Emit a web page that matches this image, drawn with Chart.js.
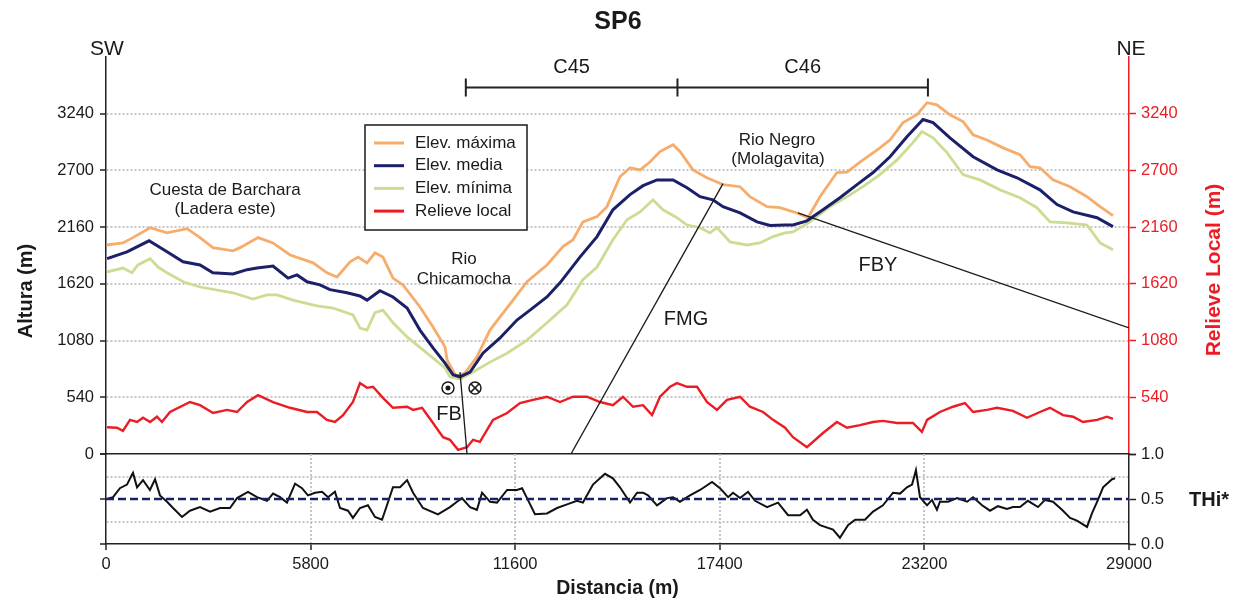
<!DOCTYPE html>
<html>
<head>
<meta charset="utf-8">
<script src="https://cdn.jsdelivr.net/npm/chart.js@4"></script>
<style>
  body { margin: 0; background: #fff; }
  #wrap { position: relative; width: 1238px; height: 605px; }
  #wrap canvas { position: absolute; left: 0; top: 0; }
</style>
</head>
<body>
<div id="wrap">
  <canvas id="perfil" width="1238" height="605"></canvas>
  <canvas id="thi" width="1238" height="605"></canvas>
</div>
<script>
// Perfil SP6 - distancias en m, alturas en m
const distMax = [20,480,765,1250,1730,2300,2665,3030,3600,3800,4310,4730,5220,5870,6265,6550,6920,7145,7400,7625,7850,8135,8420,8900,9270,9610,9670,9895,9950,10175,10515,10885,11170,11540,11935,12500,12955,13240,13520,13920,14200,14570,14855,15140,15420,15705,16075,16270,16640,17035,17490,17975,18255,18740,19105,19590,19900,20240,20720,21005,21375,21940,22225,22595,22990,23275,23555,23925,24295,24580,24975,25430,25910,26195,26475,26845,27330,27810,28180,28545];
const elevMax = [1990,2010,2060,2155,2105,2145,2060,1965,1935,1965,2060,2010,1895,1820,1725,1685,1830,1875,1820,1915,1875,1675,1610,1400,1210,1020,895,755,745,770,925,1180,1305,1465,1640,1800,1975,2040,2210,2260,2355,2640,2725,2705,2780,2880,2945,2880,2705,2630,2565,2545,2450,2355,2345,2295,2250,2450,2680,2685,2780,2915,2990,3155,3230,3345,3325,3230,3165,3040,2990,2915,2850,2735,2725,2610,2545,2450,2355,2270];

const distMedia = [30,595,1220,1730,2185,2665,3030,3600,4000,4280,4735,5160,5415,5700,6065,6350,6830,7200,7400,7765,8135,8535,8900,9270,9610,9835,10035,10320,10685,11170,11650,12020,12500,12870,13435,13920,14370,14855,15225,15620,16075,16470,16840,17205,17490,17975,18455,18825,19250,19475,19870,20325,20805,21290,21745,22225,22705,23160,23445,23925,24580,25260,25825,26475,26960,27415,28095,28545];
const elevMedia = [1860,1925,2030,1925,1830,1800,1725,1715,1755,1770,1790,1675,1705,1640,1610,1565,1535,1505,1465,1555,1495,1390,1180,1010,865,755,735,780,960,1105,1275,1370,1495,1630,1875,2070,2325,2470,2555,2610,2610,2535,2450,2420,2355,2295,2210,2175,2180,2180,2220,2325,2440,2565,2680,2830,3020,3185,3155,3010,2830,2705,2630,2515,2375,2305,2250,2165];

const distMin = [30,480,735,905,1250,1475,1730,2185,2665,3600,4165,4565,4850,5300,5980,6435,7000,7200,7400,7625,7850,8135,8535,9100,9610,9750,10035,10405,10885,11370,11935,12500,13070,13520,13920,14370,14770,15140,15505,15790,16185,16470,16840,17120,17320,17690,18170,18540,18910,19250,19475,19955,20525,21005,21460,21940,22425,22875,23130,23445,23840,24295,24775,25345,25910,26390,26760,27245,27810,28180,28545];
const elevMin = [1735,1770,1725,1800,1860,1780,1725,1640,1590,1535,1475,1515,1515,1465,1410,1390,1325,1200,1180,1345,1370,1250,1115,960,820,735,715,780,875,960,1085,1250,1420,1660,1780,2040,2230,2305,2420,2325,2250,2180,2155,2105,2155,2020,1990,2010,2070,2105,2115,2210,2355,2450,2545,2660,2800,2965,3070,3010,2870,2660,2610,2515,2440,2345,2210,2200,2180,2010,1945];

const distRel = [30,310,480,680,880,1050,1250,1445,1585,1815,2380,2665,3035,3430,3715,4000,4310,4735,5215,5700,5980,6265,6490,6720,7000,7200,7400,7570,7850,8135,8535,8705,8960,9270,9555,9750,9980,10235,10405,10600,10970,11370,11735,12105,12500,12870,13240,13635,14005,14370,14655,14940,15225,15480,15705,15990,16185,16470,16755,17035,17320,17605,17975,18255,18625,18910,19250,19475,19870,20325,20720,21005,21375,21745,22025,22425,22875,23130,23275,23640,24010,24350,24580,24975,25260,25710,26110,26475,26760,27130,27415,27695,28095,28375,28545];
const elevRel = [255,250,220,325,305,345,305,355,305,400,495,465,390,420,400,495,560,495,440,400,400,325,305,370,495,675,630,640,535,440,450,420,440,295,160,135,40,65,135,115,325,390,485,515,545,495,545,545,495,465,545,450,465,370,545,640,675,640,640,495,420,515,545,450,400,325,250,160,65,200,305,250,275,305,315,295,295,210,325,400,450,485,400,420,440,410,345,400,440,370,355,305,325,355,335];

// Fallas (extremos)
const fallaFB  = { dist: [10035, 10235], alt: [780, 0] };
const fallaFMG = { dist: [13180, 17490], alt: [0, 2575] };
const fallaFBY = { dist: [19615, 29000], alt: [2295, 1200] };

// Indice THi*
const distThi = [30,200,395,595,735,765,880,1050,1245,1390,1530,1730,1900,2155,2380,2665,2950,3230,3515,3715,4025,4280,4565,4735,4935,5130,5360,5555,5725,5925,6125,6295,6490,6635,6860,7000,7200,7425,7625,7825,7965,8135,8335,8535,8705,8985,9410,9750,9950,10090,10320,10515,10660,10885,11085,11370,11650,11795,11935,12160,12500,12785,13070,13350,13520,13805,14145,14370,14570,14855,15055,15225,15365,15620,15905,16075,16270,16555,16840,17180,17405,17635,17775,17975,18200,18400,18740,19050,19335,19675,19870,20040,20240,20610,20805,21035,21235,21515,21745,22025,22310,22510,22705,22850,22960,23075,23275,23415,23555,23640,23870,24125,24410,24580,24835,25060,25285,25540,25710,25910,26135,26420,26620,26845,27100,27330,27525,27810,27950,28120,28265,28520,28605];
const thiVals = [0.50,0.52,0.62,0.66,0.77,0.79,0.63,0.71,0.60,0.72,0.54,0.47,0.40,0.30,0.37,0.41,0.36,0.40,0.40,0.51,0.58,0.52,0.48,0.56,0.52,0.46,0.67,0.62,0.54,0.57,0.58,0.52,0.58,0.40,0.37,0.29,0.40,0.43,0.30,0.27,0.43,0.63,0.63,0.71,0.57,0.40,0.33,0.41,0.47,0.51,0.41,0.38,0.57,0.47,0.46,0.60,0.60,0.62,0.51,0.33,0.34,0.40,0.44,0.48,0.46,0.66,0.78,0.73,0.63,0.46,0.57,0.57,0.54,0.43,0.51,0.52,0.47,0.54,0.60,0.69,0.62,0.52,0.57,0.51,0.58,0.48,0.41,0.46,0.32,0.32,0.38,0.27,0.21,0.16,0.07,0.21,0.27,0.27,0.36,0.43,0.57,0.56,0.63,0.66,0.82,0.52,0.43,0.49,0.38,0.47,0.47,0.51,0.47,0.52,0.43,0.37,0.42,0.39,0.41,0.41,0.48,0.41,0.49,0.47,0.38,0.29,0.26,0.19,0.34,0.49,0.63,0.72,0.73];
const distUmbral = [0, 29000];
const thiUmbral = [0.5, 0.5];

// Tramos C45 / C46
const tramos = [10200, 16200, 23300];
const tramoLabels = ['C45', 'C46'];

const FONT = "'Liberation Sans', Arial, sans-serif";
const C_MAX = '#F7AC6B', C_MEDIA = '#1B2068', C_MIN = '#CBDD93', C_REL = '#EC1C24';
const GRID = '#c6c6c6';
const TRANSP = 'rgba(0,0,0,0)';

const pts = (xs, ys) => xs.map((d, i) => ({ x: d, y: ys[i] }));

function txt(ctx, s, x, y, size, opts = {}) {
  ctx.save();
  ctx.font = (opts.bold ? 'bold ' : '') + size + 'px ' + FONT;
  ctx.fillStyle = opts.color || '#1a1a1a';
  ctx.textAlign = opts.align || 'center';
  ctx.textBaseline = 'middle';
  if (opts.rot) {
    ctx.translate(x, y);
    ctx.rotate(opts.rot);
    ctx.fillText(s, 0, 0);
  } else {
    ctx.fillText(s, x, y);
  }
  ctx.restore();
}

const overlay = {
  id: 'overlay',
  afterDraw(chart) {
    const { ctx } = chart;
    const x = chart.scales.x, y = chart.scales.y;

    txt(ctx, 'SP6', 618, 22, 25, { bold: true });
    txt(ctx, 'SW', 107, 49, 21);
    txt(ctx, 'NE', 1131, 49, 21);

    // barra de tramos
    const yb = y.getPixelForValue(3490);
    ctx.save();
    ctx.strokeStyle = '#222';
    ctx.lineWidth = 2;
    ctx.beginPath();
    ctx.moveTo(x.getPixelForValue(tramos[0]), yb);
    ctx.lineTo(x.getPixelForValue(tramos[tramos.length - 1]), yb);
    tramos.forEach(t => {
      const px = x.getPixelForValue(t);
      ctx.moveTo(px, yb - 9);
      ctx.lineTo(px, yb + 9);
    });
    ctx.stroke();
    ctx.restore();
    tramoLabels.forEach((l, i) => {
      const cx = (x.getPixelForValue(tramos[i]) + x.getPixelForValue(tramos[i + 1])) / 2;
      txt(ctx, l, cx, 67, 20);
    });

    // anotaciones
    txt(ctx, 'Cuesta de Barchara', 225, 190, 17);
    txt(ctx, '(Ladera este)', 225, 209, 17);
    txt(ctx, 'Rio', 464, 259, 17);
    txt(ctx, 'Chicamocha', 464, 279, 17);
    txt(ctx, 'Rio Negro', 777, 140, 17);
    txt(ctx, '(Molagavita)', 778, 159, 17);
    txt(ctx, 'FB', 449, 414, 20);
    txt(ctx, 'FMG', 686, 319, 20);
    txt(ctx, 'FBY', 878, 265, 20);

    // simbolos de movimiento
    const s1x = x.getPixelForValue(9695), s2x = x.getPixelForValue(10460), sy = y.getPixelForValue(629);
    ctx.save();
    ctx.strokeStyle = '#1a1a1a';
    ctx.fillStyle = '#1a1a1a';
    ctx.lineWidth = 1.5;
    ctx.beginPath(); ctx.arc(s1x, sy, 6, 0, Math.PI * 2); ctx.stroke();
    ctx.beginPath(); ctx.arc(s1x, sy, 2.5, 0, Math.PI * 2); ctx.fill();
    ctx.beginPath(); ctx.arc(s2x, sy, 6, 0, Math.PI * 2); ctx.stroke();
    const d = 4.2;
    ctx.beginPath();
    ctx.moveTo(s2x - d, sy - d); ctx.lineTo(s2x + d, sy + d);
    ctx.moveTo(s2x + d, sy - d); ctx.lineTo(s2x - d, sy + d);
    ctx.stroke();
    ctx.restore();

    // leyenda
    ctx.save();
    ctx.fillStyle = '#fff';
    ctx.fillRect(365, 125, 162, 105);
    ctx.strokeStyle = '#1a1a1a';
    ctx.lineWidth = 1.5;
    ctx.strokeRect(365, 125, 162, 105);
    const items = [['Elev. máxima', C_MAX], ['Elev. media', C_MEDIA], ['Elev. mínima', C_MIN], ['Relieve local', C_REL]];
    items.forEach((it, i) => {
      const ly = 143 + i * 22.7;
      ctx.strokeStyle = it[1];
      ctx.lineWidth = 3;
      ctx.beginPath(); ctx.moveTo(374, ly); ctx.lineTo(404, ly); ctx.stroke();
      txt(ctx, it[0], 415, ly, 17, { align: 'left' });
    });
    ctx.restore();

    // titulos de ejes
    txt(ctx, 'Altura (m)', 26, 291, 20, { bold: true, rot: -Math.PI / 2 });
    txt(ctx, 'Relieve Local (m)', 1214, 270, 21, { bold: true, rot: -Math.PI / 2, color: C_REL });
    txt(ctx, 'THi*', 1189, 500, 20, { bold: true, align: 'left' });
  }
};

const tickFont = { family: FONT, size: 16.5 };
const hideTop = v => v === 3780 ? '' : String(v);
const hideTopZero = v => (v === 3780 || v === 0) ? '' : String(v);

new Chart(document.getElementById('perfil'), {
  type: 'line',
  data: {
    datasets: [
      { data: pts(fallaFB.dist, fallaFB.alt), borderColor: '#1a1a1a', borderWidth: 1.3 },
      { data: pts(fallaFMG.dist, fallaFMG.alt), borderColor: '#1a1a1a', borderWidth: 1.3 },
      { data: pts(fallaFBY.dist, fallaFBY.alt), borderColor: '#1a1a1a', borderWidth: 1.3 },
      { label: 'Elev. media', data: pts(distMedia, elevMedia), borderColor: C_MEDIA, borderWidth: 3 },
      { label: 'Elev. máxima', data: pts(distMax, elevMax), borderColor: C_MAX, borderWidth: 2.8 },
      { label: 'Elev. mínima', data: pts(distMin, elevMin), borderColor: C_MIN, borderWidth: 2.8 },
      { label: 'Relieve local', data: pts(distRel, elevRel), borderColor: C_REL, borderWidth: 2.4, yAxisID: 'y2' }
    ]
  },
  options: {
    responsive: false,
    animation: false,
    layout: { padding: { left: 0, right: 0, top: 57, bottom: 151 } },
    plugins: { legend: { display: false }, tooltip: { enabled: false } },
    elements: { point: { radius: 0 }, line: { tension: 0 } },
    scales: {
      x: {
        type: 'linear', min: 0, max: 29000,
        ticks: { display: false },
        grid: { drawOnChartArea: false, drawTicks: false },
        border: { color: '#222', width: 1.5 },
        afterFit: s => { s.height = 0; }
      },
      y: {
        position: 'left', min: 0, max: 3780,
        ticks: { stepSize: 540, font: tickFont, color: '#1a1a1a', padding: 6, callback: hideTop },
        grid: {
          color: c => (c.tick.value === 0 || c.tick.value === 3780) ? TRANSP : GRID,
          lineWidth: 2, tickLength: 6, tickWidth: 1.5,
          tickColor: c => c.tick.value === 3780 ? TRANSP : '#222'
        },
        border: { color: '#222', width: 1.5, dash: [2, 2] },
        afterFit: s => { s.width = 106; }
      },
      y2: {
        position: 'right', min: 0, max: 3780,
        ticks: { stepSize: 540, font: tickFont, color: C_REL, padding: 5, callback: hideTopZero },
        grid: {
          drawOnChartArea: false, tickLength: 7, tickWidth: 1.5,
          tickColor: c => c.tick.value === 3780 ? TRANSP : C_REL
        },
        border: { color: C_REL, width: 1.5 },
        afterFit: s => { s.width = 109; }
      }
    }
  },
  plugins: [overlay]
});

const thiLabels = v => (v === 0 || v === 0.5 || v === 1) ? v.toFixed(1) : '';
const mainTick = c => (c.tick.value === 0 || c.tick.value === 0.5 || c.tick.value === 1) ? '#222' : TRANSP;

new Chart(document.getElementById('thi'), {
  type: 'line',
  data: {
    datasets: [
      { data: pts(distUmbral, thiUmbral), borderColor: C_MEDIA, borderWidth: 2.6, borderDash: [8, 4] },
      { label: 'THi*', data: pts(distThi, thiVals), borderColor: '#111', borderWidth: 2 }
    ]
  },
  options: {
    responsive: false,
    animation: false,
    layout: { padding: { left: 0, right: 0, top: 454, bottom: 0 } },
    plugins: { legend: { display: false }, tooltip: { enabled: false } },
    elements: { point: { radius: 0 }, line: { tension: 0 } },
    scales: {
      x: {
        type: 'linear', min: 0, max: 29000,
        ticks: { stepSize: 5800, font: tickFont, color: '#1a1a1a', padding: 5, maxRotation: 0, autoSkip: false, callback: v => String(v) },
        grid: {
          color: c => (c.tick.value === 0 || c.tick.value === 29000) ? TRANSP : GRID,
          lineWidth: 2, tickLength: 6, tickWidth: 1.5, tickColor: '#222'
        },
        border: { color: '#222', width: 1.5, dash: [2, 2] },
        title: { display: true, text: 'Distancia (m)', color: '#1a1a1a', font: { family: FONT, size: 19.5, weight: 'bold' }, padding: { top: 0, bottom: 5 } },
        afterFit: s => { s.height = 61; }
      },
      y: {
        position: 'left', min: 0, max: 1,
        ticks: { stepSize: 0.25, callback: () => '' },
        grid: {
          color: c => (c.tick.value === 0.25 || c.tick.value === 0.75) ? GRID : TRANSP,
          lineWidth: 2, tickLength: 6, tickWidth: 1.5, tickColor: mainTick
        },
        border: { color: '#222', width: 1.5, dash: [2, 2] },
        afterFit: s => { s.width = 106; }
      },
      y2: {
        position: 'right', min: 0, max: 1,
        ticks: { stepSize: 0.25, font: tickFont, color: '#1a1a1a', padding: 5, callback: thiLabels },
        grid: { drawOnChartArea: false, tickLength: 7, tickWidth: 1.5, tickColor: mainTick },
        border: { color: '#222', width: 1.5 },
        afterFit: s => { s.width = 109; }
      }
    }
  }
});
</script>
</body>
</html>
